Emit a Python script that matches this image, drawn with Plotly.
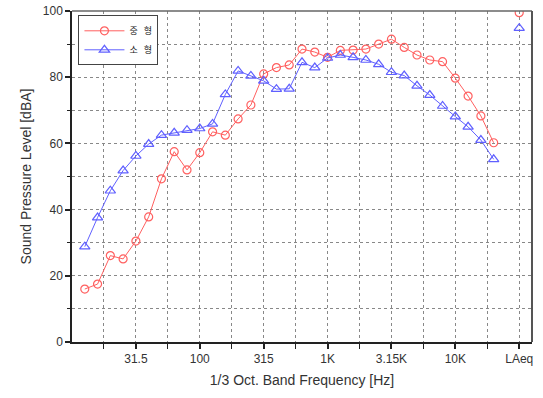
import plotly.graph_objects as go

# 1/3 octave bands 12.5 Hz .. 20 kHz, then LAeq
bands = ["12.5", "16", "20", "25", "31.5", "40", "50", "63", "80", "100",
         "125", "160", "200", "250", "315", "400", "500", "630", "800", "1K",
         "1.25K", "1.6K", "2K", "2.5K", "3.15K", "4K", "5K", "6.3K", "8K", "10K",
         "12.5K", "16K", "20K"]
medium = [16.0, 17.5, 26.1, 25.1, 30.5, 37.8, 49.3, 57.5, 52.0, 57.2,
          63.5, 62.5, 67.4, 71.6, 81.0, 82.9, 83.7, 88.5, 87.6, 86.0,
          88.1, 88.2, 88.5, 90.0, 91.5, 89.0, 86.7, 85.2, 84.7, 79.7,
          74.3, 68.3, 60.2]
small = [28.8, 37.6, 45.7, 51.8, 56.2, 59.8, 62.5, 63.2, 64.0, 64.5,
         65.9, 74.8, 81.9, 80.4, 78.9, 76.4, 76.5, 84.5, 82.9, 85.8,
         86.7, 86.0, 85.2, 83.9, 81.5, 80.5, 77.4, 74.6, 71.3, 68.1,
         65.0, 61.0, 55.2]
laeq_medium = 99.5
laeq_small = 94.8

tick_labels = ["31.5", "100", "315", "1K", "3.15K", "10K", "LAeq"]
tick_bands = ["31.5", "100", "315", "1K", "3.15K", "10K"]

x_idx = list(range(len(bands)))
laeq_x = len(bands) + 1
tick_pos = [bands.index(b) for b in tick_bands] + [laeq_x]
minor_pos = [p - 2.5 for p in tick_pos]

RED = "#ff6060"
BLUE = "#6060ff"
FONT = "Arial, Liberation Sans, sans-serif"

fig = go.Figure()
fig.add_trace(go.Scatter(x=x_idx, y=medium, mode="lines+markers", name="중   형",
                         line=dict(color=RED, width=1),
                         marker=dict(symbol="circle-open", size=8, color=RED, line=dict(width=1.2))))
fig.add_trace(go.Scatter(x=x_idx, y=small, mode="lines+markers", name="소   형",
                         line=dict(color=BLUE, width=1),
                         marker=dict(symbol="triangle-up-open", size=9, color=BLUE, line=dict(width=1.2))))
fig.add_trace(go.Scatter(x=[laeq_x], y=[laeq_medium], mode="markers", showlegend=False,
                         marker=dict(symbol="circle-open", size=8, color=RED, line=dict(width=1.2))))
fig.add_trace(go.Scatter(x=[laeq_x], y=[laeq_small], mode="markers", showlegend=False,
                         marker=dict(symbol="triangle-up-open", size=9, color=BLUE, line=dict(width=1.2))))

grid_color = "#888888"
fig.update_xaxes(range=[-1, 35], tickmode="array", tickvals=tick_pos, ticktext=tick_labels,
                 ticks="outside", ticklen=5, tickwidth=1.5, tickcolor="#222",
                 showline=True, linecolor="#222", linewidth=1.5, mirror=False,
                 showgrid=True, gridcolor=grid_color, griddash="dot", gridwidth=1,
                 minor=dict(tickvals=minor_pos, ticks="outside", ticklen=5, tickwidth=1.2,
                            tickcolor="#222", showgrid=True, gridcolor=grid_color, griddash="dot"),
                 zeroline=False, automargin=False,
                 tickfont=dict(family=FONT, size=12, color="#333"),
                 title=dict(text="1/3 Oct. Band Frequency [Hz]", font=dict(family=FONT, size=14, color="#333"),
                            standoff=10))
fig.update_yaxes(range=[0, 100], tickvals=[0, 20, 40, 60, 80, 100],
                 ticks="outside", ticklen=5, tickwidth=1.5, tickcolor="#222",
                 showline=True, linecolor="#222", linewidth=1.5,
                 showgrid=True, gridcolor=grid_color, griddash="dot", gridwidth=1,
                 minor=dict(tickvals=[10, 30, 50, 70, 90], ticks="outside", ticklen=3, tickwidth=1,
                            tickcolor="#222", showgrid=True, gridcolor=grid_color, griddash="dot"),
                 zeroline=False, automargin=False,
                 tickfont=dict(family=FONT, size=12, color="#333"),
                 title=dict(text="Sound Pressure Level [dBA]", font=dict(family=FONT, size=14, color="#333"),
                            standoff=8))

# top and right frame
fig.add_shape(type="line", xref="paper", yref="paper", x0=0, x1=1, y0=1, y1=1,
              line=dict(color="#666", width=1.5))
fig.add_shape(type="line", xref="paper", yref="paper", x0=1, x1=1, y0=0, y1=1,
              line=dict(color="#555", width=2))

fig.update_layout(
    width=543, height=398,
    margin=dict(l=72, r=11, t=11, b=56, autoexpand=False),
    paper_bgcolor="white", plot_bgcolor="white",
    font=dict(family=FONT, color="#333"),
    legend=dict(x=0.014, y=0.987, xanchor="left", yanchor="top",
                bgcolor="white", bordercolor="#444", borderwidth=1,
                font=dict(family="Noto Sans CJK KR", size=9, color="#222"),
                itemwidth=40, tracegroupgap=0),
)

fig.write_html("out.html", config={"displayModeBar": False},
               post_script="document.body.style.margin='0';document.body.style.overflow='hidden';")
